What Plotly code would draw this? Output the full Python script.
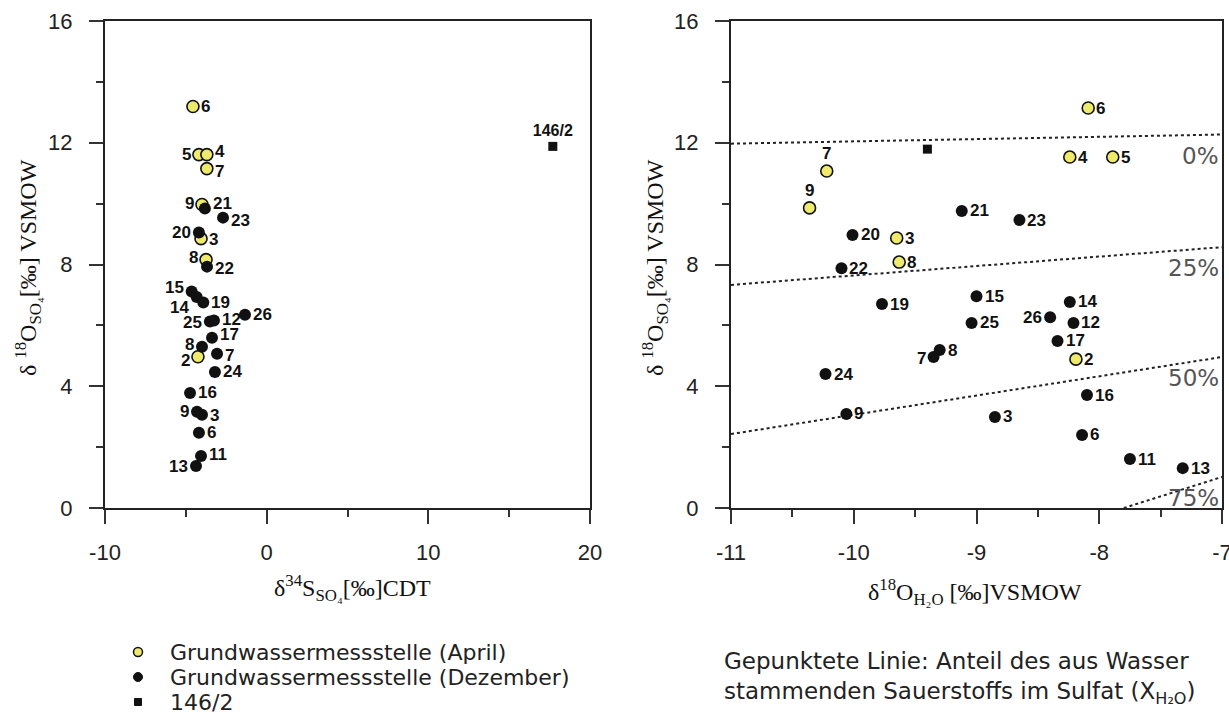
import plotly.graph_objects as go

# ---------------- data ----------------
# Left panel: d34S (x) vs d18O_SO4 (y)
l_apr_lab = ["6", "5", "4", "7", "9", "3", "8", "2"]
l_apr_x = [-4.56, -4.19, -3.70, -3.70, -4.00, -4.06, -3.75, -4.25]
l_apr_y = [13.19, 11.61, 11.61, 11.15, 9.97, 8.85, 8.16, 4.97]

l_dez_lab = ["21", "23", "20", "22", "15", "14", "19", "25", "12", "26",
             "17", "8", "7", "24", "16", "9", "3", "6", "11", "13"]
l_dez_x = [-3.82, -2.70, -4.19, -3.69, -4.64, -4.33, -3.92, -3.51, -3.26, -1.34,
           -3.38, -4.00, -3.07, -3.20, -4.74, -4.31, -4.00, -4.19, -4.06, -4.37]
l_dez_y = [9.84, 9.54, 9.05, 7.93, 7.11, 6.93, 6.75, 6.13, 6.16, 6.35,
           5.59, 5.30, 5.07, 4.47, 3.78, 3.16, 3.06, 2.47, 1.71, 1.38]

l_sq_lab = ["146/2"]
l_sq_x = [17.7]
l_sq_y = [11.88]

# Right panel: d18O_H2O (x) vs d18O_SO4 (y)
r_apr_lab = ["6", "4", "5", "7", "9", "3", "8", "2"]
r_apr_x = [-8.09, -8.24, -7.89, -10.22, -10.36, -9.65, -9.63, -8.19]
r_apr_y = [13.14, 11.53, 11.53, 11.07, 9.86, 8.87, 8.08, 4.89]

r_dez_lab = ["21", "23", "20", "22", "15", "14", "19", "25", "12", "26",
             "17", "8", "7", "24", "16", "9", "3", "6", "11", "13"]
r_dez_x = [-9.12, -8.65, -10.01, -10.10, -9.00, -8.24, -9.77, -9.04, -8.21, -8.40,
           -8.34, -9.30, -9.35, -10.23, -8.10, -10.06, -8.85, -8.14, -7.75, -7.32]
r_dez_y = [9.76, 9.46, 8.97, 7.88, 6.96, 6.77, 6.70, 6.08, 6.08, 6.27,
           5.49, 5.19, 4.96, 4.40, 3.71, 3.09, 2.99, 2.40, 1.61, 1.31]

r_sq_x = [-9.40]
r_sq_y = [11.79]

# dotted mixing lines (fraction of oxygen from water)
mix_lab = ["0%", "25%", "50%", "75%"]
mix_x0 = [-11.0, -11.0, -11.0, -7.8]
mix_y0 = [11.97, 7.33, 2.43, 0.0]
mix_x1 = [-7.0, -7.0, -7.0, -7.0]
mix_y1 = [12.27, 8.57, 4.96, 1.02]

left_xticks = [-10, 0, 10, 20]
right_xticks = [-11, -10, -9, -8, -7]
yticks = [0, 4, 8, 12, 16]

legend_names = ["Grundwassermessstelle (April)",
                "Grundwassermessstelle (Dezember)",
                "146/2"]

# ---------------- styles ----------------
YELLOW = "#EEEA6C"
W, H = 1229, 718
LAB_FONT = dict(family="Liberation Sans, Arial", size=17, color="#111", weight="bold")
TICK_FONT = dict(family="Liberation Sans, Arial", size=22, color="#222")
SERIF = dict(family="Liberation Serif, Times New Roman", size=24, color="#111")
GOTHIC = dict(family="DejaVu Sans", size=22, color="#222")

# label placement: (side, extra y shift in px)
l_apr_pos = {"6": ("r", 0), "5": ("l", 0), "4": ("r", 3), "7": ("r", -3),
             "9": ("l", 1), "3": ("r", -1), "8": ("l", 2), "2": ("l", -4)}
l_dez_pos = {"21": ("r", 5), "23": ("r", -3), "20": ("l", 0), "22": ("r", -2),
             "15": ("l", 4), "14": ("l", -10), "19": ("r", 0), "25": ("l", -1),
             "12": ("r", 1), "26": ("r", 0), "17": ("r", 3), "8": ("l", 2),
             "7": ("r", -2), "24": ("r", 0), "16": ("r", 0), "9": ("l", 0),
             "3": ("r", -1), "6": ("r", 0), "11": ("r", 1), "13": ("l", 0)}
r_apr_pos = {"6": ("r", 0), "4": ("r", 0), "5": ("r", 0), "7": ("t", 0),
             "9": ("t", 0), "3": ("r", 0), "8": ("r", 0), "2": ("r", 0)}
r_dez_pos = {k: ("r", 0) for k in r_dez_lab}
r_dez_pos["26"] = ("l", 0)
r_dez_pos["7"] = ("l", -1)

fig = go.Figure()

# dotted lines (right panel)
for i in range(len(mix_lab)):
    fig.add_trace(go.Scatter(
        x=[mix_x0[i], mix_x1[i]], y=[mix_y0[i], mix_y1[i]],
        mode="lines", line=dict(color="#222", width=2, dash="dot"),
        xaxis="x2", yaxis="y2", showlegend=False, hoverinfo="skip"))

apr_marker = dict(color=YELLOW, size=12, line=dict(color="#111", width=1.6))
dez_marker = dict(color="#111", size=12, line=dict(color="#111", width=0))
sq_marker = dict(color="#111", size=9, symbol="square")

# left panel
fig.add_trace(go.Scatter(x=l_apr_x, y=l_apr_y, mode="markers", marker=apr_marker,
                         name=legend_names[0], showlegend=False, cliponaxis=False))
fig.add_trace(go.Scatter(x=l_dez_x, y=l_dez_y, mode="markers", marker=dez_marker,
                         name=legend_names[1], showlegend=False, cliponaxis=False))
fig.add_trace(go.Scatter(x=l_sq_x, y=l_sq_y, text=l_sq_lab, mode="markers+text",
                         textposition="top center", textfont=dict(LAB_FONT, size=16),
                         marker=sq_marker, name=legend_names[2],
                         showlegend=False, cliponaxis=False))

# right panel
fig.add_trace(go.Scatter(x=r_apr_x, y=r_apr_y, mode="markers", marker=apr_marker,
                         xaxis="x2", yaxis="y2", showlegend=False, cliponaxis=False))
fig.add_trace(go.Scatter(x=r_dez_x, y=r_dez_y, mode="markers", marker=dez_marker,
                         xaxis="x2", yaxis="y2", showlegend=False, cliponaxis=False))
fig.add_trace(go.Scatter(x=r_sq_x, y=r_sq_y, mode="markers", marker=sq_marker,
                         xaxis="x2", yaxis="y2", showlegend=False, cliponaxis=False))


def add_labels(labels, xs, ys, pos, xref, yref):
    for lab, x, y in zip(labels, xs, ys):
        side, dy = pos[lab]
        kw = dict(x=x, y=y, xref=xref, yref=yref, text=lab, showarrow=False,
                  font=LAB_FONT)
        if side == "r":
            kw.update(xanchor="left", yanchor="middle", xshift=6, yshift=dy)
        elif side == "l":
            kw.update(xanchor="right", yanchor="middle", xshift=-6, yshift=dy)
        else:
            kw.update(xanchor="center", yanchor="bottom", yshift=6 + dy)
        fig.add_annotation(**kw)


add_labels(l_apr_lab, l_apr_x, l_apr_y, l_apr_pos, "x", "y")
add_labels(l_dez_lab, l_dez_x, l_dez_y, l_dez_pos, "x", "y")
add_labels(r_apr_lab, r_apr_x, r_apr_y, r_apr_pos, "x2", "y2")
add_labels(r_dez_lab, r_dez_x, r_dez_y, r_dez_pos, "x2", "y2")

# label annotations for mixing lines
for i in range(len(mix_lab)):
    fig.add_annotation(x=mix_x1[i], y=mix_y1[i], xref="x2", yref="y2",
                       text=mix_lab[i], showarrow=False, xanchor="right", yanchor="top",
                       xshift=-1, yshift=-6,
                       font=dict(family="DejaVu Sans", size=23, color="#555"))


def px_x(p):
    return p / W


def px_y(p):
    return 1 - p / H


def fmt(v):
    return str(v).replace("\u2212", "-")


ydom = [px_y(508), px_y(21)]
minor_style = dict(ticklen=7, tickcolor="#333", ticks="outside", tickwidth=1.5)
common_axis = dict(showline=True, linecolor="#222", linewidth=2, mirror=True,
                   ticks="outside", ticklen=14, tickwidth=1.5, tickcolor="#333",
                   showgrid=False, zeroline=False, tickfont=TICK_FONT,
                   automargin=False, ticklabeloverflow="allow")
xcommon = dict(common_axis, ticklabelstandoff=10)
ycommon = dict(common_axis, ticklabelstandoff=12)

fig.update_layout(
    width=W, height=H, autosize=False,
    margin=dict(l=0, r=0, t=0, b=0, pad=0, autoexpand=False),
    paper_bgcolor="white", plot_bgcolor="white",
    showlegend=False,
    xaxis=dict(xcommon, domain=[px_x(105), px_x(590)], range=[-10, 20],
               tickvals=left_xticks, ticktext=[fmt(v) for v in left_xticks], anchor="y",
               minor=dict(minor_style, dtick=5, tick0=-10)),
    yaxis=dict(ycommon, domain=ydom, range=[0, 16], tickvals=yticks,
               ticktext=[fmt(v) for v in yticks], anchor="x",
               minor=dict(minor_style, dtick=2, tick0=0)),
    xaxis2=dict(xcommon, domain=[px_x(731), px_x(1222)], range=[-11, -7],
                tickvals=right_xticks, ticktext=[fmt(v) for v in right_xticks],
                anchor="y2", minor=dict(minor_style, dtick=0.5, tick0=-11)),
    yaxis2=dict(ycommon, domain=ydom, range=[0, 16], tickvals=yticks,
                ticktext=[fmt(v) for v in yticks], anchor="x2",
                minor=dict(minor_style, dtick=2, tick0=0)),
)

# legend (keys as paper shapes, entries as text)
leg_rows = [652, 677, 702]
leg_key_x = 138
key_styles = [
    dict(type="circle", r=4.5, fill=YELLOW, line=dict(color="#111", width=1.5)),
    dict(type="circle", r=4.5, fill="#111", line=dict(color="#111", width=1)),
    dict(type="rect", r=3.5, fill="#111", line=dict(color="#111", width=1)),
]
for name, row, ks in zip(legend_names, leg_rows, key_styles):
    r = ks["r"]
    fig.add_shape(type=ks["type"], xref="paper", yref="paper",
                  x0=px_x(leg_key_x - r), x1=px_x(leg_key_x + r),
                  y0=px_y(row + r), y1=px_y(row - r),
                  fillcolor=ks["fill"], line=ks["line"])
    fig.add_annotation(x=px_x(leg_key_x + 30), y=px_y(row), xref="paper", yref="paper",
                       text=name, showarrow=False, xanchor="left", yanchor="middle",
                       font=GOTHIC)

# axis titles
ytitle = "δ <sup>18</sup>O<sub>SO₄</sub>[‰] VSMOW"
fig.add_annotation(x=px_x(28), y=px_y(268), xref="paper", yref="paper",
                   text=ytitle, textangle=-90,
                   showarrow=False, font=SERIF, xanchor="center", yanchor="middle")
fig.add_annotation(x=px_x(655), y=px_y(268), xref="paper", yref="paper",
                   text=ytitle, textangle=-90,
                   showarrow=False, font=SERIF, xanchor="center", yanchor="middle")
fig.add_annotation(x=px_x(352), y=px_y(588), xref="paper", yref="paper",
                   text="δ<sup>34</sup>S<sub>SO₄</sub>[‰]CDT",
                   showarrow=False, font=SERIF, xanchor="center", yanchor="middle")
fig.add_annotation(x=px_x(975), y=px_y(592), xref="paper", yref="paper",
                   text="δ<sup>18</sup>O<sub>H₂O</sub> [‰]VSMOW",
                   showarrow=False, font=SERIF, xanchor="center", yanchor="middle")

# explanatory note
fig.add_annotation(x=px_x(960), y=px_y(678), xref="paper", yref="paper",
                   text="Gepunktete Linie: Anteil des aus Wasser<br>"
                        "stammenden Sauerstoffs im Sulfat (X<sub>H₂O</sub>)",
                   showarrow=False, align="left", font=dict(GOTHIC, size=23),
                   xanchor="center", yanchor="middle")

fig.write_html("out.html")
